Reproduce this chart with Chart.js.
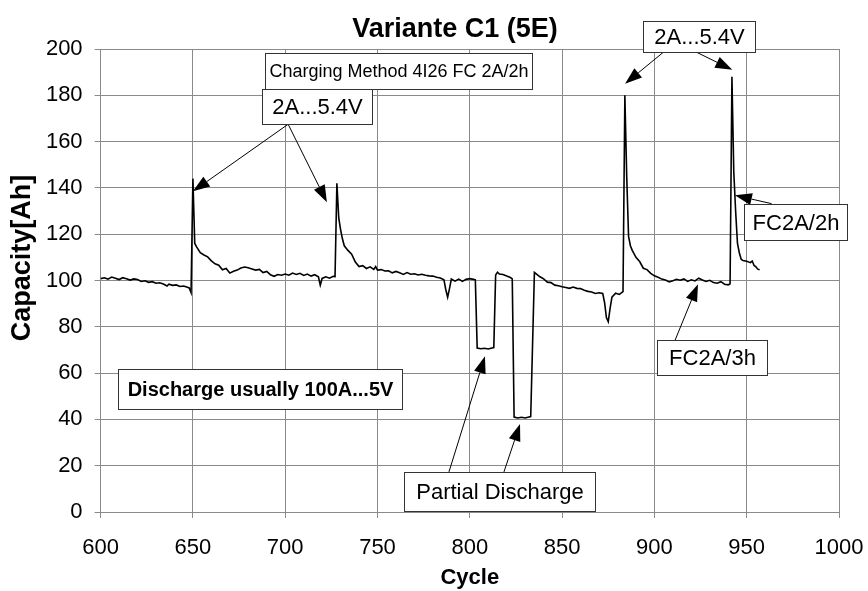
<!DOCTYPE html>
<html>
<head>
<meta charset="utf-8">
<title>Variante C1 (5E)</title>
<script src="https://cdn.jsdelivr.net/npm/chart.js@4.4.1/dist/chart.umd.min.js"></script>
<style>
  html, body { margin: 0; padding: 0; background: #fff; }
  #wrap { width: 868px; height: 591px; }
</style>
</head>
<body>
<div id="wrap"><canvas id="chart" width="868" height="591"></canvas></div>
<script>
  // cycle numbers and capacity
  const cycles = [
    600, 602, 604, 606, 608, 610, 612, 614, 616, 618, 620, 622, 624, 626, 628, 630, 632, 634, 636, 637,
    639, 641, 643, 645, 647, 648, 649, 650, 651, 652, 654, 656, 658, 660, 662, 664, 666, 668, 670, 672,
    674, 676, 678, 680, 682, 684, 686, 688, 690, 692, 694, 696, 698, 700, 702, 704, 706, 708, 710, 712,
    714, 716, 718, 719, 720, 722, 724, 726, 727, 728, 729, 730, 731, 732, 734, 736, 738, 740, 742, 744,
    746, 748, 749, 750, 752, 754, 756, 758, 760, 762, 764, 766, 768, 770, 772, 774, 776, 778, 780, 782,
    784, 786, 787, 788, 789, 790, 792, 794, 796, 798, 800, 802, 803, 804, 806, 808, 810, 812, 813, 814,
    815, 816, 818, 820, 822, 823, 824, 826, 828, 830, 832, 833, 835, 836, 838, 840, 842, 844, 846, 848,
    850, 852, 854, 856, 858, 860, 862, 864, 866, 868, 870, 872, 873, 874, 875, 876, 877, 879, 881, 883,
    884, 885, 886, 887, 888, 890, 892, 894, 896, 898, 900, 902, 904, 906, 908, 910, 912, 914, 916, 918,
    920, 922, 924, 926, 928, 930, 932, 934, 936, 938, 940, 941, 942, 943, 944, 945, 946, 947, 948, 950,
    952, 953, 954, 955, 956, 957
  ];
  const capacity = [
    100.8, 101.2, 100.6, 101.5, 101.0, 100.4, 101.2, 100.8, 100.2, 100.7, 100.4, 99.6, 99.9, 99.2, 99.5, 98.8, 99.0, 98.5, 97.6, 98.4,
    97.9, 98.1, 97.4, 97.6, 97.1, 96.8, 94.8, 144, 116, 114.5, 112, 111, 110.2, 108.5, 107.2, 106.6, 104.6, 105.2, 103.2, 104.0,
    104.5, 105.4, 105.8, 105.5, 105.0, 104.5, 104.8, 103.4, 103.9, 102.5, 101.8, 102.6, 102.3, 102.8, 102.3, 103.2, 102.6, 103.1, 102.2, 102.8,
    101.9, 102.5, 101.6, 98.0, 100.9, 101.6, 101.0, 101.8, 101.7, 142, 127, 122, 118, 115, 113, 111.4, 108, 106, 106.4, 105.2,
    105.9, 104.8, 106, 104.5, 104.7, 104.1, 104.2, 103.3, 103.9, 103.3, 102.6, 103.4, 102.7, 102.9, 102.4, 102.7, 102.3, 102.0, 101.9, 101.4,
    101.1, 100.3, 96, 92.8, 96.5, 100.6, 99.7, 100.6, 99.6, 100.5, 100.8, 100.5, 100.3, 70.8, 70.5, 70.7, 70.4, 70.8, 71.0, 102.4,
    103.6, 102.8, 102.6, 101.9, 101.3, 100.7, 41.0, 40.6, 40.9, 40.6, 41.0, 41.2, 103.5, 102.9, 101.6, 100.7, 99.3, 99.1, 98.0, 97.7,
    97.3, 97.0, 96.6, 97.2, 96.6, 96.5, 95.8, 95.3, 95.0, 94.4, 94.7, 94.4, 90.5, 84.0, 82.2, 88.0, 92.8, 94.5, 94.0, 95.2,
    180, 145, 119, 115, 113, 110, 108.2, 105.3, 104.7, 103.1, 102.0, 101.4, 100.6, 100.2, 99.4, 99.9, 100.5, 100.1, 100.7, 99.6,
    100.3, 99.8, 101.0, 100.2, 99.6, 100.1, 99.1, 98.8, 99.5, 98.4, 98.1, 98.6, 188, 147, 130, 116, 112, 109.2, 108.6, 108.3,
    107.7, 108.4, 106.5, 105.9, 104.9, 104.6
  ];

  const xTicks = [600, 650, 700, 750, 800, 850, 900, 950, 1000];
  const yTicks = [0, 20, 40, 60, 80, 100, 120, 140, 160, 180, 200];

  const titleText = "Variante C1 (5E)";
  const xTitle = "Cycle";
  const yTitle = "Capacity[Ah]";

  // callout boxes: box = [left cycle, top Ah, right cycle, bottom Ah], arrows = [fromX, fromY, toX, toY]
  const notes = [
    { text: "Charging Method 4I26 FC 2A/2h", size: 18, box: [689, 198.1, 833.7, 182.6], bold: false, arrows: [] },
    { text: "2A...5.4V", size: 22, box: [687.4, 182.6, 747.1, 167.5], bold: false,
      arrows: [[701.6, 167.5, 650, 138.5], [701.6, 167.5, 722.6, 133.8]] },
    { text: "2A...5.4V", size: 22, box: [893.8, 212.3, 954.5, 198.5], bold: false,
      arrows: [[904.7, 198.5, 884.1, 185], [923.1, 198.5, 942.2, 191]] },
    { text: "FC2A/2h", size: 22, box: [948.7, 132.9, 1004.5, 117.3], bold: false,
      arrows: [[963.5, 133.2, 943.6, 136.8]] },
    { text: "FC2A/3h", size: 22, box: [901.4, 74.2, 961, 59.1], bold: false,
      arrows: [[911.2, 74.2, 923.6, 98.4]] },
    { text: "Discharge usually 100A...5V", size: 20, box: [609.5, 61.7, 763.3, 44.5], bold: true, arrows: [] },
    { text: "Partial Discharge", size: 22, box: [764.4, 17.3, 868, 0.6], bold: false,
      arrows: [[788.7, 17.3, 808.2, 67.3], [818.5, 17.3, 827.2, 38]] }
  ];

  const FONT = "'Liberation Sans', Arial, sans-serif";
  const GRID = "#8a8a8a";

  function drawArrow(ctx, x1, y1, x2, y2) {
    const ang = Math.atan2(y2 - y1, x2 - x1);
    const len = 17;
    const half = 6;
    const bx = x2 - len * Math.cos(ang);
    const by = y2 - len * Math.sin(ang);
    ctx.beginPath();
    ctx.moveTo(x1, y1);
    ctx.lineTo(bx, by);
    ctx.stroke();
    ctx.beginPath();
    ctx.moveTo(x2, y2);
    ctx.lineTo(bx + half * Math.sin(ang), by - half * Math.cos(ang));
    ctx.lineTo(bx - half * Math.sin(ang), by + half * Math.cos(ang));
    ctx.closePath();
    ctx.fill();
  }

  const notesPlugin = {
    id: "notes",
    afterDraw(chart) {
      const ctx = chart.ctx;
      const xs = chart.scales.x;
      const ys = chart.scales.y;
      const px = (c) => xs.getPixelForValue(c);
      const py = (v) => ys.getPixelForValue(v);

      ctx.save();
      ctx.strokeStyle = "#000";
      ctx.fillStyle = "#000";
      ctx.lineWidth = 1;
      notes.forEach((note) => {
        note.arrows.forEach((a) => drawArrow(ctx, px(a[0]), py(a[1]), px(a[2]), py(a[3])));
      });

      notes.forEach((note) => {
        const l = Math.round(px(note.box[0])) + 0.5;
        const t = Math.round(py(note.box[1])) + 0.5;
        const r = Math.round(px(note.box[2])) + 0.5;
        const b = Math.round(py(note.box[3])) + 0.5;
        ctx.fillStyle = "#fff";
        ctx.fillRect(l, t, r - l, b - t);
        ctx.strokeStyle = "#333";
        ctx.strokeRect(l, t, r - l, b - t);
        ctx.fillStyle = "#000";
        ctx.font = (note.bold ? "bold " : "") + note.size + "px " + FONT;
        ctx.textAlign = "center";
        ctx.textBaseline = "middle";
        ctx.fillText(note.text, (l + r) / 2, (t + b) / 2 + 1);
      });

      // chart title and rotated y axis title
      ctx.font = "bold 27px " + FONT;
      ctx.textAlign = "center";
      ctx.textBaseline = "middle";
      ctx.fillText(titleText, 455, 30);

      ctx.translate(23, 258);
      ctx.rotate(-Math.PI / 2);
      ctx.font = "bold 27px " + FONT;
      ctx.fillText(yTitle, 0, 0);
      ctx.restore();
    }
  };

  const points = cycles.map((c, i) => ({ x: c, y: capacity[i] }));

  new Chart(document.getElementById("chart"), {
    type: "line",
    data: {
      datasets: [{
        data: points,
        borderColor: "#000",
        borderWidth: 1.6,
        pointRadius: 0,
        tension: 0,
        fill: false
      }]
    },
    options: {
      responsive: false,
      animation: false,
      devicePixelRatio: 1,
      layout: { padding: { left: 0, top: 49, right: 29, bottom: 0 } },
      plugins: {
        legend: { display: false },
        tooltip: { enabled: false }
      },
      scales: {
        x: {
          type: "linear",
          min: 600,
          max: 1000,
          afterFit: (scale) => {
            scale.height = 79;
            scale.paddingLeft = 0;
            scale.paddingRight = 0;
          },
          afterBuildTicks: (scale) => { scale.ticks = xTicks.map((v) => ({ value: v })); },
          ticks: {
            color: "#000",
            font: { family: FONT, size: 22 },
            padding: 17,
            maxRotation: 0,
            callback: (v) => String(v)
          },
          grid: { color: GRID, lineWidth: 1, tickLength: 6 },
          border: { color: GRID },
          title: { display: true, text: xTitle, color: "#000", font: { family: FONT, size: 22, weight: "bold" }, padding: { top: 0, bottom: 0 } }
        },
        y: {
          min: 0,
          max: 200,
          afterFit: (scale) => {
            scale.width = 100.6;
            scale.paddingTop = 0;
            scale.paddingBottom = 0;
          },
          afterBuildTicks: (scale) => { scale.ticks = yTicks.map((v) => ({ value: v })); },
          ticks: { color: "#000", font: { family: FONT, size: 22 }, padding: 12 },
          grid: { color: GRID, lineWidth: 1, tickLength: 6 },
          border: { color: GRID }
        }
      }
    },
    plugins: [notesPlugin]
  });
</script>
</body>
</html>
